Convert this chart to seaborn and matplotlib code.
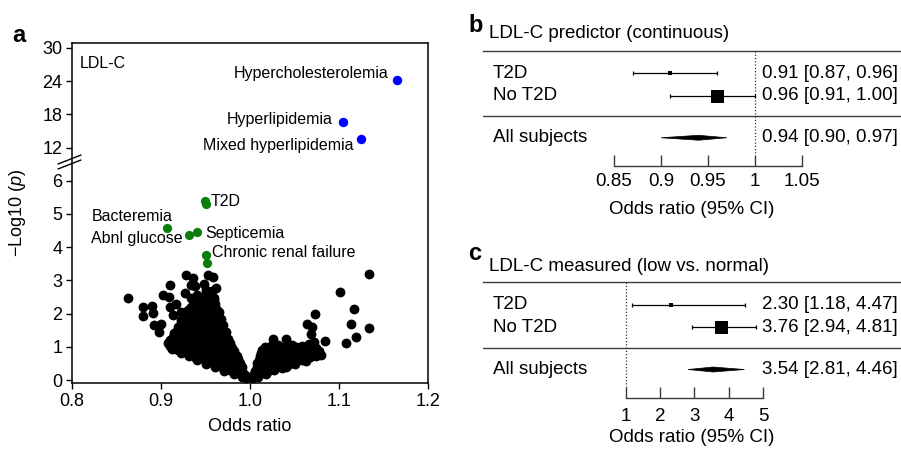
import numpy as np
import pandas as pd
import matplotlib
matplotlib.use("Agg")
import matplotlib.pyplot as plt
import matplotlib.transforms as mtransforms
import seaborn as sns

# ---------------- data: panel a (volcano) ----------------
bg_or = [
    # left outliers
    0.8625, 0.880, 0.880, 0.890, 0.891, 0.892, 0.900, 0.898, 0.902, 0.910, 0.909, 0.910,
    0.913, 0.908, 0.917, 0.923, 0.927, 0.9285, 0.9356, 0.938, 0.934, 0.943, 0.948, 0.9525,
    0.958, 0.962, 0.960, 0.963, 0.951, 0.944, 0.932, 0.921, 0.934, 0.941,
    # left cloud
    0.991, 0.996,
    0.982, 0.988, 0.994,
    0.971, 0.978, 0.985, 0.992,
    0.961, 0.968, 0.975, 0.982, 0.989,
    0.951, 0.958, 0.965, 0.972, 0.979, 0.986, 0.991,
    0.941, 0.948, 0.955, 0.962, 0.969, 0.976, 0.983, 0.989,
    0.931, 0.938, 0.945, 0.952, 0.959, 0.966, 0.973, 0.980, 0.987,
    0.922, 0.929, 0.936, 0.943, 0.950, 0.957, 0.964, 0.971, 0.978, 0.985,
    0.912, 0.919, 0.926, 0.933, 0.940, 0.947, 0.954, 0.961, 0.968, 0.975, 0.982,
    0.910, 0.917, 0.924, 0.931, 0.938, 0.945, 0.952, 0.959, 0.966, 0.973, 0.980,
    0.916, 0.923, 0.930, 0.937, 0.944, 0.951, 0.958, 0.965, 0.972, 0.978,
    0.910, 0.917, 0.924, 0.931, 0.938, 0.945, 0.952, 0.959, 0.966, 0.973, 0.977,
    0.913, 0.920, 0.927, 0.934, 0.941, 0.948, 0.955, 0.962, 0.969, 0.975,
    0.915, 0.922, 0.929, 0.936, 0.943, 0.950, 0.957, 0.964, 0.971,
    0.918, 0.925, 0.932, 0.939, 0.946, 0.953, 0.960, 0.967, 0.973,
    0.919, 0.926, 0.933, 0.940, 0.947, 0.954, 0.961, 0.968,
    0.922, 0.929, 0.936, 0.943, 0.950, 0.957, 0.964, 0.970,
    0.923, 0.930, 0.937, 0.944, 0.951, 0.958, 0.965,
    0.926, 0.933, 0.940, 0.947, 0.954, 0.961, 0.967,
    0.928, 0.935, 0.942, 0.949, 0.956, 0.962,
    0.930, 0.937, 0.944, 0.951, 0.958, 0.965,
    0.934, 0.942, 0.950, 0.957,
    0.938, 0.946, 0.954, 0.961,
    0.941, 0.949, 0.956,
    0.945, 0.953, 0.959,
    0.950, 0.957,
    # right cloud
    1.003, 1.009,
    1.005, 1.012, 1.018,
    1.006, 1.013, 1.020, 1.027,
    1.008, 1.015, 1.022, 1.029, 1.036, 1.041,
    1.008, 1.015, 1.022, 1.029, 1.036, 1.043, 1.050,
    1.010, 1.017, 1.024, 1.031, 1.038, 1.045, 1.052, 1.058, 1.063,
    1.011, 1.018, 1.025, 1.032, 1.039, 1.046, 1.053, 1.060, 1.067, 1.074,
    1.012, 1.019, 1.026, 1.033, 1.040, 1.047, 1.054, 1.061, 1.068, 1.075, 1.080,
    1.014, 1.021, 1.028, 1.035, 1.042, 1.049, 1.056, 1.063, 1.070, 1.077,
    1.017, 1.024, 1.038, 1.052, 1.074,
    1.031, 1.047, 1.058, 1.066,
    # right outliers
    1.1337, 1.101, 1.117, 1.114, 1.134, 1.119, 1.108, 1.073, 1.064, 1.070, 1.068, 1.072,
    1.084, 1.026, 1.040,
]
bg_p = [
    2.46, 2.21, 1.93, 2.23, 2.01, 1.66, 1.69, 1.46, 2.56, 2.86, 2.51, 2.21,
    1.96, 1.10, 2.29, 2.06, 2.62, 3.16, 3.07, 2.83, 2.46, 2.51, 2.89, 3.16,
    3.09, 2.76, 2.41, 2.11, 2.61, 2.21, 1.96, 1.61, 2.86, 2.56,
    0.08, 0.05,
    0.19, 0.21, 0.15,
    0.28, 0.31, 0.27, 0.22,
    0.40, 0.38, 0.41, 0.39, 0.35,
    0.48, 0.52, 0.47, 0.51, 0.49, 0.46, 0.40,
    0.60, 0.62, 0.58, 0.61, 0.59, 0.62, 0.57, 0.52,
    0.72, 0.68, 0.71, 0.69, 0.73, 0.70, 0.67, 0.72, 0.62,
    0.80, 0.82, 0.79, 0.81, 0.78, 0.82, 0.80, 0.79, 0.77, 0.72,
    0.93, 0.89, 0.91, 0.88, 0.92, 0.90, 0.87, 0.93, 0.90, 0.88, 0.86,
    1.01, 0.99, 1.02, 0.98, 1.00, 1.03, 0.99, 1.01, 0.98, 1.00, 0.95,
    1.12, 1.08, 1.11, 1.09, 1.13, 1.10, 1.07, 1.12, 1.09, 1.05,
    1.21, 1.19, 1.22, 1.18, 1.21, 1.20, 1.22, 1.19, 1.21, 1.16, 1.10,
    1.31, 1.28, 1.32, 1.29, 1.30, 1.33, 1.27, 1.31, 1.29, 1.24,
    1.41, 1.38, 1.42, 1.39, 1.40, 1.43, 1.38, 1.41, 1.36,
    1.49, 1.52, 1.48, 1.51, 1.47, 1.50, 1.53, 1.49, 1.45,
    1.61, 1.58, 1.62, 1.59, 1.60, 1.63, 1.58, 1.57,
    1.71, 1.68, 1.72, 1.69, 1.73, 1.70, 1.67, 1.66,
    1.81, 1.78, 1.82, 1.79, 1.80, 1.83, 1.77,
    1.89, 1.92, 1.88, 1.91, 1.93, 1.89, 1.85,
    2.01, 1.98, 2.02, 1.99, 2.00, 1.97,
    2.12, 2.08, 2.11, 2.09, 2.13, 2.05,
    2.21, 2.19, 2.22, 2.20,
    2.31, 2.28, 2.32, 2.29,
    2.40, 2.42, 2.38,
    2.48, 2.52, 2.47,
    2.71, 2.68,
    0.07, 0.10,
    0.19, 0.21, 0.17,
    0.28, 0.31, 0.27, 0.30,
    0.40, 0.38, 0.41, 0.39, 0.37, 0.40,
    0.52, 0.48, 0.51, 0.47, 0.50, 0.46, 0.49,
    0.61, 0.59, 0.62, 0.58, 0.60, 0.61, 0.57, 0.59, 0.58,
    0.72, 0.69, 0.71, 0.68, 0.73, 0.70, 0.67, 0.72, 0.69, 0.71,
    0.81, 0.79, 0.82, 0.78, 0.80, 0.81, 0.79, 0.82, 0.78, 0.80, 0.76,
    0.91, 0.88, 0.92, 0.89, 0.93, 0.90, 0.87, 0.92, 0.89, 0.86,
    0.99, 1.01, 0.98, 1.00, 0.97,
    1.04, 1.06, 1.02, 1.08,
    3.19, 2.65, 2.14, 1.69, 1.58, 1.30, 1.11, 1.99, 1.69, 1.61, 1.39, 1.15,
    1.17, 1.23, 1.23,
]

lipid_names = ["Hypercholesterolemia", "Hyperlipidemia", "Mixed hyperlipidemia"]
lipid_or = [1.165, 1.105, 1.125]
lipid_p = [24.2, 16.6, 13.6]

other_names = ["T2D", "T2D", "Bacteremia", "Abnl glucose", "Septicemia",
               "Chronic renal failure", "Chronic renal failure"]
other_or = [0.949, 0.950, 0.907, 0.932, 0.941, 0.951, 0.952]
other_p = [5.40, 5.30, 4.57, 4.37, 4.45, 3.77, 3.51]

y_ticks_a = [0, 1, 2, 3, 4, 5, 6, 12, 18, 24, 30]
x_ticks_a = [0.8, 0.9, 1.0, 1.1, 1.2]

# ---------------- data: panels b, c (forest) ----------------
groups = ["T2D", "No T2D"]
all_label = "All subjects"

b_or = [0.91, 0.96]
b_lo = [0.87, 0.91]
b_hi = [0.96, 1.00]
b_all = [0.94, 0.90, 0.97]
b_ticks = [0.85, 0.9, 0.95, 1, 1.05]
b_ticklabels = ["0.85", "0.9", "0.95", "1", "1.05"]

c_or = [2.30, 3.76]
c_lo = [1.18, 2.94]
c_hi = [4.47, 4.81]
c_all = [3.54, 2.81, 4.46]
c_ticks = [1, 2, 3, 4, 5]
c_ticklabels = ["1", "2", "3", "4", "5"]

# ---------------- style ----------------
sns.set_theme(style="white")
plt.rcParams["font.family"] = ["Liberation Sans", "DejaVu Sans"]
plt.rcParams["mathtext.fontset"] = "custom"
plt.rcParams["mathtext.rm"] = "Liberation Sans"
plt.rcParams["mathtext.it"] = "Liberation Sans:italic"
for k in ["text.color", "axes.labelcolor", "xtick.color", "ytick.color", "axes.edgecolor"]:
    plt.rcParams[k] = "black"

W, H = 901, 451
fig = plt.figure(figsize=(W / 100, H / 100), dpi=100)
PX = 0.72  # points per pixel
FS_F = 13.5  # forest font size

def fax(l, t, r, b):
    return fig.add_axes([l / W, 1 - b / H, (r - l) / W, (b - t) / H])

# ---------------- panel a ----------------
ax = fax(72, 43, 428, 383)

def fwd(y):
    y = np.asarray(y, dtype=float)
    return np.where(y <= 6, y, 6 + (y - 6) / 6.0)

def inv(y):
    y = np.asarray(y, dtype=float)
    return np.where(y <= 6, y, 6 + (y - 6) * 6.0)

ax.set_yscale("function", functions=(fwd, inv))

bg = pd.DataFrame({"or": bg_or, "p": bg_p})
lip = pd.DataFrame({"or": lipid_or, "p": lipid_p, "name": lipid_names})
oth = pd.DataFrame({"or": other_or, "p": other_p, "name": other_names})

msize = 50
sns.scatterplot(data=bg, x="or", y="p", color="black", s=msize, linewidth=0, ax=ax, zorder=2)
sns.scatterplot(data=oth, x="or", y="p", color="#0a7d0a", s=44, linewidth=0, ax=ax, zorder=3)
sns.scatterplot(data=lip, x="or", y="p", color="#0000ff", s=46, linewidth=0, ax=ax, zorder=3)

ax.set_xlim(0.8, 1.2)
ax.set_ylim(-0.09, 30.9)
ax.set_yticks(y_ticks_a)
ax.set_yticklabels([str(t) for t in y_ticks_a])
ax.set_xticks(x_ticks_a)
ax.set_xticklabels([f"{t:.1f}" for t in x_ticks_a])
ax.tick_params(axis="both", which="both", direction="out", length=4, width=1,
               labelsize=13, pad=3, left=True, bottom=True, colors="black")
for s in ax.spines.values():
    s.set_linewidth(1.1)
    s.set_color("black")
ax.set_xlabel("Odds ratio", fontsize=13, labelpad=6)
ax.set_ylabel("\u2212Log10 ($\\mathit{p}$)", fontsize=13, labelpad=10)

# annotations (offsets in pixels)
ann = {
    "Hypercholesterolemia": (-8, 7, "right"),
    "Hyperlipidemia": (-11, 3, "right"),
    "Mixed hyperlipidemia": (-8, -7, "right"),
}
for n, x, y in zip(lipid_names, lipid_or, lipid_p):
    dx, dy, ha = ann[n]
    ax.annotate(n, (x, y), xytext=(dx * PX, dy * PX), textcoords="offset points",
                ha=ha, va="center", fontsize=11.5)
ann2 = {
    "T2D": (6, -1, "left"),
    "Bacteremia": (-35, 12, "center"),
    "Abnl glucose": (-7, -4, "right"),
    "Septicemia": (8, -1, "left"),
    "Chronic renal failure": (6, 2, "left"),
}
seen = set()
for n, x, y in zip(other_names, other_or, other_p):
    if n in seen:
        continue
    seen.add(n)
    dx, dy, ha = ann2[n]
    ax.annotate(n, (x, y), xytext=(dx * PX, dy * PX), textcoords="offset points",
                ha=ha, va="center", fontsize=11.5)

ax.text(0.0225, 0.941, "LDL-C", transform=ax.transAxes, ha="left", va="center", fontsize=11.5)

# axis break marks
for off in (0, 5):
    fig.add_artist(plt.Line2D([58 / W, 81 / W], [1 - (164 + off) / H, 1 - (155 + off) / H],
                              color="black", lw=1.0))

fig.text(12 / W, 1 - 41.7 / H, "a", fontsize=17, fontweight="bold", ha="left", va="baseline")

# ---------------- forest panels ----------------
ROW_Y = [0, 1]
ALL_Y = 2.87
MID_Y = 1.9
TOP_Y = -1.0
BOT_Y = 4.13
TICKTOP_Y = 3.65

def forest(ax, ors, los, his, allv, ticks, ticklabels, xlim, tick_pad, label_pad, title, letter,
           letter_base, title_base):
    ax.set_xlim(*xlim)
    ax.set_ylim(BOT_Y, TOP_Y)
    for s in ["left", "right"]:
        ax.spines[s].set_visible(False)
    ax.spines["top"].set_color("#3a3a3a")
    ax.spines["top"].set_linewidth(1.0)
    ax.spines["bottom"].set_color("#3a3a3a")
    ax.spines["bottom"].set_linewidth(1.0)
    ax.spines["bottom"].set_bounds(ticks[0], ticks[-1])
    ax.axhline(MID_Y, color="#3a3a3a", lw=1.0)
    ax.set_xticks(ticks)
    ax.set_xticklabels(ticklabels)
    ax.set_yticks([])
    ax.tick_params(axis="x", direction="in", length=8, width=1.0, color="#3a3a3a",
                   labelsize=FS_F, pad=tick_pad, bottom=True)
    ax.set_xlabel("Odds ratio (95% CI)", fontsize=FS_F, labelpad=label_pad)
    ax.plot([1, 1], [TOP_Y, TICKTOP_Y], color="#333333", lw=0.9, ls=(0, (1, 1.6)))
    sizes = [4 * PX, 13 * PX]
    for y, o, lo, hi, ms in zip(ROW_Y, ors, los, his, sizes):
        ax.errorbar([o], [y], xerr=[[o - lo], [hi - o]], fmt="none", ecolor="black",
                    elinewidth=0.9, capsize=1.3, capthick=0.9)
        ax.plot([o], [y], marker="s", ms=ms, color="black", mew=0)
    est, lo, hi = allv
    hh = 0.11
    ax.fill([lo, est, hi, est], [ALL_Y, ALL_Y - hh, ALL_Y, ALL_Y + hh], color="black", lw=0.5,
            edgecolor="black")
    tr = mtransforms.blended_transform_factory(fig.transFigure, ax.transData)
    for y, g, o, l, h in zip(ROW_Y, groups, ors, los, his):
        ax.text(493 / W, y, g, transform=tr, ha="left", va="center", fontsize=FS_F)
        ax.text(762 / W, y, f"{o:.2f} [{l:.2f}, {h:.2f}]", transform=tr, ha="left",
                va="center", fontsize=FS_F)
    ax.text(493 / W, ALL_Y, all_label, transform=tr, ha="left", va="center", fontsize=FS_F)
    ax.text(762 / W, ALL_Y, f"{est:.2f} [{lo:.2f}, {hi:.2f}]", transform=tr, ha="left",
            va="center", fontsize=FS_F)
    fig.text(468 / W, 1 - letter_base / H, letter, fontsize=17, fontweight="bold",
             ha="left", va="baseline")
    fig.text(489 / W, 1 - title_base / H, title, fontsize=FS_F, ha="left", va="baseline")

axb = fax(483, 51, 901, 166)
forest(axb, b_or, b_lo, b_hi, b_all, b_ticks, b_ticklabels,
       (0.7106, 1.1553), 5, 8, "LDL-C predictor (continuous)", "b", 31.7, 38.5)

axc = fax(483, 282, 901, 398)
forest(axc, c_or, c_lo, c_hi, c_all, c_ticks, c_ticklabels,
       (-3.175, 9.03), 7, 3, "LDL-C measured (low vs. normal)", "c", 260, 271.3)

fig.savefig("out.png", dpi=100)
